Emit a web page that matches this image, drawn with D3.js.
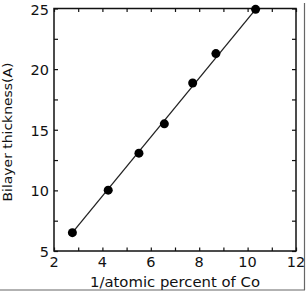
<!DOCTYPE html>
<html><head><meta charset="utf-8">
<script src="https://cdn.jsdelivr.net/npm/d3@7"></script>
<style>
html,body{margin:0;padding:0;background:#fff;}
svg{display:block;}
text{font-family:"DejaVu Sans","Liberation Sans",Arial,sans-serif;fill:#111;}
</style></head>
<body>
<svg id="chart" width="307" height="292"></svg>
<script>
// Data
const invCo = [2.76, 4.24, 5.51, 6.56, 7.73, 8.69, 10.33];
const thickness = [6.51, 10.02, 13.07, 15.49, 18.86, 21.28, 24.93];
const fitX = [2.76, 10.33];
const fitY = [6.51, 24.93];
const xTickLabels = [2, 4, 6, 8, 10, 12];
const yTickLabels = [5, 10, 15, 20, 25];
const xTitle = "1/atomic percent of Co";
const yTitle = "Bilayer thickness(A)";

const svg = d3.select("#chart");
const L = 54, R = 296, T = 8.5, B = 251;
const x = d3.scaleLinear().domain([2, 12]).range([L, R]);
const y = d3.scaleLinear().domain([5, 25]).range([B, T]);
const ink = "#111";

// scan border artifacts
svg.append("line").attr("x1", 304.5).attr("x2", 304.5).attr("y1", 3).attr("y2", 290)
  .attr("stroke", "#666").attr("stroke-width", 1.2);
svg.append("line").attr("x1", 0).attr("x2", 305).attr("y1", 290).attr("y2", 290)
  .attr("stroke", "#666").attr("stroke-width", 1.2);

// frame
svg.append("rect").attr("x", L).attr("y", T).attr("width", R - L).attr("height", B - T)
  .attr("fill", "none").attr("stroke", ink).attr("stroke-width", 1.5);

// axes with inward ticks
const xMinor = d3.range(2, 12.01, 1);
const yMinor = d3.range(5, 25.01, 2.5);
const styleAxis = g => { g.select(".domain").remove(); g.selectAll("line").attr("stroke", ink).attr("stroke-width", 1.2); };

svg.append("g").attr("transform", `translate(0,${B})`)
  .call(d3.axisBottom(x).tickValues(xMinor).tickSize(-3.5).tickFormat(""))
  .call(styleAxis);
svg.append("g").attr("transform", `translate(0,${T})`)
  .call(d3.axisTop(x).tickValues(xMinor).tickSize(-3.5).tickFormat(""))
  .call(styleAxis);
svg.append("g").attr("transform", `translate(${L},0)`)
  .call(d3.axisLeft(y).tickValues(yMinor).tickSize(-4).tickFormat(""))
  .call(styleAxis);
svg.append("g").attr("transform", `translate(${R},0)`)
  .call(d3.axisRight(y).tickValues(yMinor).tickSize(-4).tickFormat(""))
  .call(styleAxis);

// tick labels
svg.append("g").selectAll("text").data(xTickLabels).join("text")
  .attr("x", d => x(d)).attr("y", 267).attr("text-anchor", "middle")
  .attr("font-size", 14.5).text(d => d);
svg.append("g").selectAll("text").data(yTickLabels).join("text")
  .attr("x", 49).attr("y", d => y(d) + 6).attr("text-anchor", "end")
  .attr("font-size", 14.5).text(d => d);

// titles
svg.append("text").attr("x", (L + R) / 2).attr("y", 287).attr("text-anchor", "middle")
  .attr("font-size", 14).attr("textLength", 170).attr("lengthAdjust", "spacingAndGlyphs")
  .text(xTitle);
svg.append("text").attr("transform", `translate(12,132) rotate(-90)`)
  .attr("text-anchor", "middle").attr("font-size", 13)
  .attr("textLength", 139).attr("lengthAdjust", "spacingAndGlyphs").text(yTitle);

// fit line
svg.append("line")
  .attr("x1", x(fitX[0])).attr("y1", y(fitY[0]))
  .attr("x2", x(fitX[1])).attr("y2", y(fitY[1]))
  .attr("stroke", "#222").attr("stroke-width", 1.3);

// points
svg.append("g").selectAll("circle").data(invCo.map((v, i) => [v, thickness[i]])).join("circle")
  .attr("cx", d => x(d[0])).attr("cy", d => y(d[1])).attr("r", 4.5).attr("fill", "#000");
</script>
</body></html>
